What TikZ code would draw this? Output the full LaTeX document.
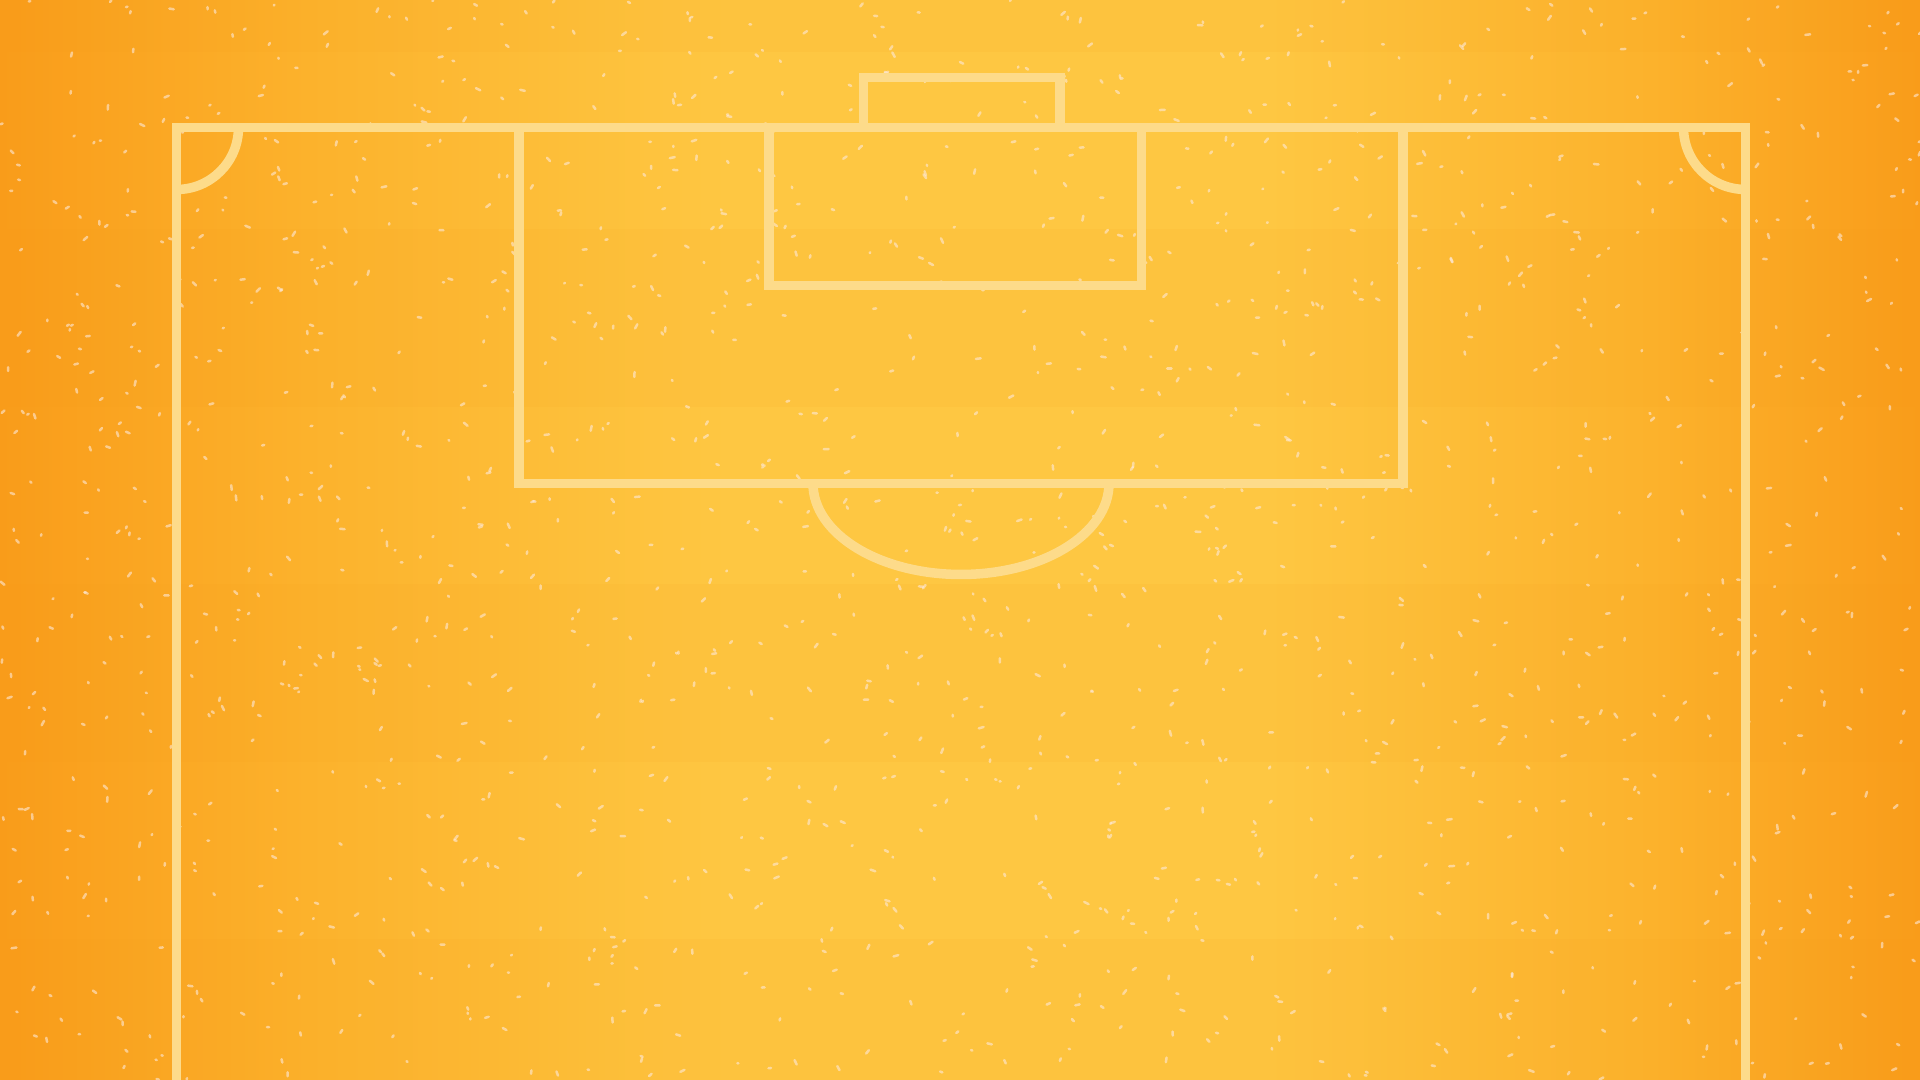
\documentclass[tikz,border=0pt]{standalone}
\usepackage{tikz}

\definecolor{edgeorange}{HTML}{F99C1A}
\definecolor{midorange}{HTML}{FCB22C}
\definecolor{centreyellow}{HTML}{FEC742}
\definecolor{chalk}{HTML}{FDDB8A}
\definecolor{speck}{HTML}{FDE9DA}
\pgfdeclarehorizontalshading{turf}{100bp}{color(0bp)=(edgeorange); color(25bp)=(edgeorange); color(33bp)=(midorange); color(44bp)=(centreyellow); color(58bp)=(centreyellow); color(68bp)=(midorange); color(75bp)=(edgeorange); color(100bp)=(edgeorange)}

\begin{document}
\begin{tikzpicture}[x=0.01cm, y=0.01cm,
  pitchline/.style={draw=chalk, line width=0.095cm},
  darkband/.style={fill=edgeorange, fill opacity=0.08},
  speckdot/.style={draw=speck, line width=0.025cm, line cap=round, opacity=0.6}]
  % Background turf with mown stripes
  \useasboundingbox (0,0) rectangle (1920,1080);
  \shade[shading=turf] (0,0) rectangle (1920,1080);
  \foreach \ybot/\ytop in {0/140.5, 318/495.5, 673/850.5, 1028/1080}
    \fill[darkband] (0,\ybot) rectangle (1920,\ytop);
  % Worn chalk specks
  \pgfmathsetseed{42}
  \foreach \i in {1,...,1600}{
    \pgfmathsetmacro{\sx}{rnd*1920}
    \pgfmathsetmacro{\sy}{rnd*1080}
    \pgfmathsetmacro{\sa}{rnd*180}
    \pgfmathsetmacro{\sl}{1+rnd*4}
    \draw[speckdot] (\sx,\sy) -- ++(\sa:\sl);
  }
  % Touchline and goal line
  \coordinate (tl) at (176.5,952.5);
  \coordinate (tr) at (1745.5,952.5);
  \draw[pitchline] (176.5,-10) -- (tl) -- (tr) -- (1745.5,-10);
  % Goal
  \draw[pitchline] (863.5,952.5) -- (863.5,1002.5) -- (1060,1002.5) -- (1060,952.5);
  % Penalty area and goal area
  \draw[pitchline] (519,952.5) -- (519,596.5) -- (1403,596.5) -- (1403,952.5);
  \draw[pitchline] (769,952.5) -- (769,794.5) -- (1141.5,794.5) -- (1141.5,952.5);
  % Penalty arc
  \draw[pitchline] (813,596.5) arc[start angle=180, end angle=360, x radius=148, y radius=91];
  % Corner arcs
  \draw[pitchline] ([yshift=-0.62cm]tl) arc[start angle=-90, end angle=0, radius=62];
  \draw[pitchline] ([xshift=-0.62cm]tr) arc[start angle=180, end angle=270, radius=62];
\end{tikzpicture}
\end{document}
